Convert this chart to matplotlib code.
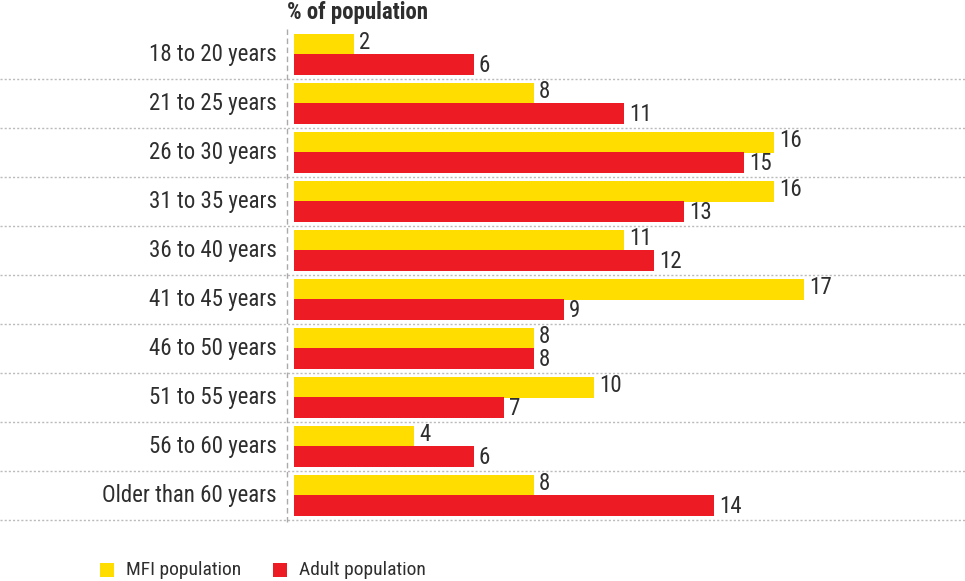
import matplotlib
matplotlib.use("Agg")
import matplotlib.pyplot as plt
from matplotlib import font_manager
import matplotlib.transforms as mtransforms
from matplotlib.patches import Rectangle

categories = ["18 to 20 years", "21 to 25 years", "26 to 30 years", "31 to 35 years",
              "36 to 40 years", "41 to 45 years", "46 to 50 years", "51 to 55 years",
              "56 to 60 years", "Older than 60 years"]
mfi = [2, 8, 16, 16, 11, 17, 8, 10, 4, 8]
adult = [6, 11, 15, 13, 12, 9, 8, 7, 6, 14]
series_names = ["MFI population", "Adult population"]
axis_title = "% of population"

YELLOW = "#FFDD00"
RED = "#ED1C24"
TEXT = "#2e2e2e"
GRID = "#bbbbbb"

avail = {f.name for f in font_manager.fontManager.ttflist}
fam = "DejaVu Sans"
for cand in ["Roboto Condensed", "Archivo Narrow", "PT Sans Narrow", "Barlow Condensed",
             "Liberation Sans Narrow", "Liberation Sans"]:
    if cand in avail:
        fam = cand
        break
plt.rcParams["font.family"] = [fam, "DejaVu Sans"]

W, H = 965, 581
fig = plt.figure(figsize=(W / 100, H / 100), dpi=100)
px_per_unit = 30.0
left_px, top_px, bot_px = 294, 30, 520
ax = fig.add_axes([left_px / W, (H - bot_px) / H, (W - left_px) / W, (bot_px - top_px) / H])
ax.set_xlim(0, (W - left_px) / px_per_unit)
n = len(categories)
ax.set_ylim(n, 0)
ax.axis("off")

bh = 0.42
yc_m = [i + 0.29 for i in range(n)]
yc_a = [i + 0.705 for i in range(n)]
ax.barh(yc_m, mfi, height=bh, color=YELLOW, linewidth=0)
ax.barh(yc_a, adult, height=bh, color=RED, linewidth=0)

off = 5 / px_per_unit
fs_val = 16.5
for y, v in zip(yc_m, mfi):
    ax.text(v + off, y - 0.03, str(v), ha="left", va="center", fontsize=fs_val, color=TEXT)
for y, v in zip(yc_a, adult):
    ax.text(v + off, y + 0.02, str(v), ha="left", va="center", fontsize=fs_val, color=TEXT)

for i, c in enumerate(categories):
    ax.text(-17 / px_per_unit, i + 0.49, c, ha="right", va="center", fontsize=16.5, color=TEXT)

# separators across full figure width
trans = mtransforms.blended_transform_factory(fig.transFigure, ax.transData)
for i in range(1, n + 1):
    ax.plot([0, 1], [i, i], transform=trans, color=GRID, lw=1.0, ls=(0, (1.5, 1.5)), clip_on=False)

# dashed axis line
ax.plot([-7 / px_per_unit, -7 / px_per_unit], [-0.02, n + 0.04], color="#aaaaaa", lw=1.0,
        ls=(0, (4, 2.5)), clip_on=False)

fig.text(287 / W, 1 - 13 / H, axis_title, ha="left", va="center", fontsize=16.5,
         fontweight="bold", color=TEXT)

# legend
for x0, col, lab in [(100, YELLOW, series_names[0]), (273, RED, series_names[1])]:
    fig.patches.append(Rectangle((x0 / W, 1 - 577 / H), 14 / W, 14 / H, transform=fig.transFigure,
                                 color=col, lw=0))
    fig.text((x0 + 26) / W, 1 - 570 / H, lab, ha="left", va="center", fontsize=14, color=TEXT)

fig.savefig("out.png", dpi=100)
